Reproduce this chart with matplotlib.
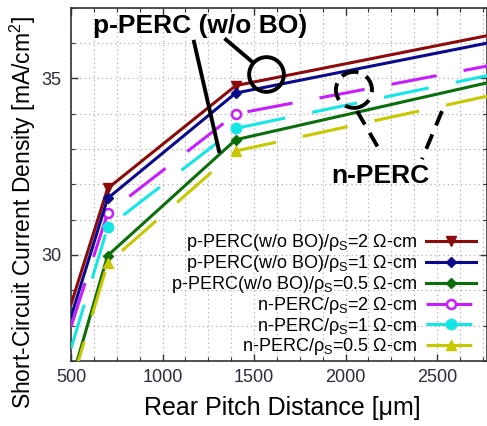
import matplotlib
matplotlib.use("Agg")
import matplotlib.pyplot as plt
from matplotlib.ticker import MultipleLocator
from matplotlib.patches import Ellipse

plt.rcParams['font.family'] = ['Liberation Sans', 'DejaVu Sans']
plt.rcParams['mathtext.fontset'] = 'custom'
plt.rcParams['mathtext.rm'] = 'Liberation Sans'
plt.rcParams['mathtext.it'] = 'Liberation Sans'
plt.rcParams['mathtext.bf'] = 'Liberation Sans:bold'

# Rear pitch distance [um]
pitch = [500, 700, 1400, 2800]

# Short-circuit current density [mA/cm^2]
p_perc_2 = [28.6, 31.88, 34.79, 36.23]
p_perc_1 = [28.25, 31.6, 34.58, 36.02]
p_perc_05 = [26.4, 29.98, 33.26, 34.9]
n_perc_2 = [27.97, 31.18, 33.99, 35.37]
n_perc_1 = [27.35, 30.78, 33.58, 35.1]
n_perc_05 = [26.3, 29.76, 32.94, 34.52]

labels = [
    r'p-PERC(w/o BO)/$\rho_{S}$=2 Ω-cm',
    r'p-PERC(w/o BO)/$\rho_{S}$=1 Ω-cm',
    r'p-PERC(w/o BO)/$\rho_{S}$=0.5 Ω-cm',
    r'n-PERC/$\rho_{S}$=2 Ω-cm',
    r'n-PERC/$\rho_{S}$=1 Ω-cm',
    r'n-PERC/$\rho_{S}$=0.5 Ω-cm',
]

x_ticks = [500, 1000, 1500, 2000, 2500]
y_ticks = [30, 35]

fig = plt.figure(figsize=(4.87, 4.26), dpi=100)
ax = fig.add_axes([71 / 487, 65 / 426, 416 / 487, 353.5 / 426])

dash = (0, (15, 9))
lw = 2.2
ms = 7.5
mk = [1, 2, 3]
ax.plot(pitch, p_perc_2, color='#8B0A0A', lw=lw, marker='v', ms=ms, markevery=mk,
        label=labels[0], zorder=6)
ax.plot(pitch, p_perc_1, color='#0A0A8C', lw=lw, marker='D', ms=ms - 2, markevery=mk,
        label=labels[1], zorder=6)
ax.plot(pitch, p_perc_05, color='#0A6E0A', lw=lw, marker='D', ms=ms - 2, markevery=mk,
        label=labels[2], zorder=5)
ax.plot(pitch, n_perc_2, color='#C81EFF', lw=lw, ls=dash, marker='o', ms=ms - 1,
        mfc='white', mew=1.8, markevery=mk, label=labels[3], zorder=5)
ax.plot(pitch, n_perc_1, color='#14E6E6', lw=lw, ls=dash, marker='o', ms=ms,
        markevery=mk, label=labels[4], zorder=5)
ax.plot(pitch, n_perc_05, color='#C8C800', lw=lw, ls=dash, marker='^', ms=ms,
        markevery=mk, label=labels[5], zorder=5)

ax.set_xlim(500, 2773)
ax.set_ylim(27, 37)
ax.set_xticks(x_ticks)
ax.set_yticks(y_ticks)
ax.xaxis.set_minor_locator(MultipleLocator(125))
ax.yaxis.set_minor_locator(MultipleLocator(1))
ax.grid(True, which='both', ls=(0, (1, 2.5)), color='#b0b0b0', lw=0.9, zorder=0)
ax.tick_params(which='both', direction='in', top=True, right=True, colors='#333333',
               labelcolor='#2b2b3b', labelsize=13)
ax.tick_params(which='major', length=5, width=1)
ax.tick_params(which='minor', length=3, width=0.8)
ax.tick_params(axis='x', pad=6)
ax.tick_params(axis='y', pad=7)
for s in ax.spines.values():
    s.set_color('#333333')
    s.set_linewidth(1.2)

ax.set_xlabel('Rear Pitch Distance [μm]', fontsize=18)
ax.xaxis.set_label_coords(0.507, -0.098)
ax.set_ylabel('Short-Circuit Current Density [mA/cm$^{2}$]', fontsize=16.5)
ax.yaxis.set_label_coords(-0.08, 0.42)

leg = ax.legend(loc='lower right', bbox_to_anchor=(0.974, 0.01), frameon=False,
                markerfirst=False, fontsize=13, handlelength=2.8, handletextpad=0.5,
                labelspacing=-0.01, borderpad=0, borderaxespad=0)

# Callouts
ax.text(1205, 36.49, 'p-PERC (w/o BO)', fontsize=19, fontweight='bold', ha='center',
        va='center', zorder=8)
ax.plot([1565], [35.13], marker='o', ms=25, mfc='none', mec='black', mew=2.8, zorder=8)
ax.plot([1347, 1484], [36.09, 35.49], color='black', lw=2.8, zorder=8)
ax.plot([1172, 1309], [36.03, 32.94], color='black', lw=2.8, zorder=8)

ax.text(2188, 32.23, 'n-PERC', fontsize=19, fontweight='bold', ha='center',
        va='center', zorder=8)
ax.add_patch(Ellipse((2046, 34.67), 197, 1.02, fill=False, ec='black', lw=2.8,
                     ls=(0, (4.5, 2.2)), zorder=8))
ax.plot([2063, 2199], [34.07, 32.85], color='black', lw=2.8, ls=(0, (4, 2.5)), zorder=8)
ax.plot([2527, 2418], [34.07, 32.71], color='black', lw=2.8, ls=(0, (4, 2.5)), zorder=8)

fig.savefig('out.png', dpi=100)
